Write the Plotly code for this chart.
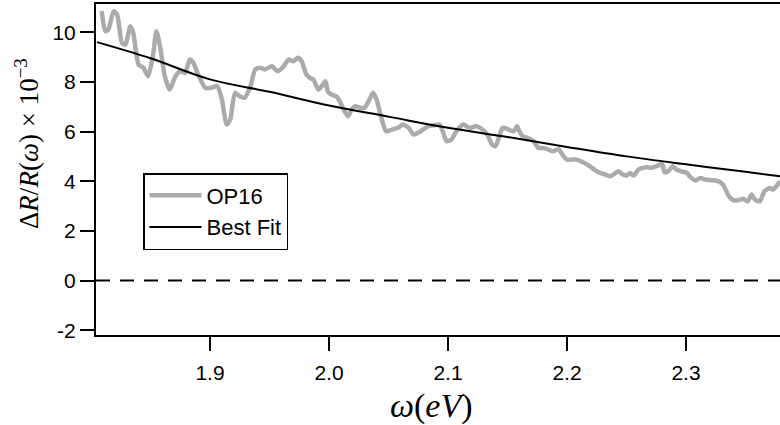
import plotly.graph_objects as go

# ---- data ----
op16_x = [1.809, 1.812, 1.8145, 1.819, 1.822, 1.826, 1.829, 1.833, 1.8355, 1.840,
          1.844, 1.848, 1.852, 1.855, 1.858, 1.862, 1.866, 1.871, 1.875, 1.879,
          1.883, 1.886, 1.890, 1.896, 1.901, 1.906, 1.910, 1.914, 1.917, 1.921,
          1.925, 1.929, 1.934, 1.938, 1.942, 1.946, 1.952, 1.955, 1.957, 1.962,
          1.966, 1.970, 1.974, 1.977, 1.981, 1.984, 1.987, 1.991, 1.994, 1.997,
          1.999, 2.002, 2.006, 2.009, 2.013, 2.016, 2.019, 2.022, 2.026, 2.030,
          2.034, 2.037, 2.040, 2.044, 2.048, 2.053, 2.058, 2.062, 2.067, 2.071,
          2.075, 2.079, 2.083, 2.088, 2.093, 2.096, 2.099, 2.103, 2.107, 2.113,
          2.118, 2.123, 2.127, 2.133, 2.137, 2.140, 2.144, 2.146, 2.151, 2.155,
          2.158, 2.160, 2.163, 2.167, 2.172, 2.176, 2.180, 2.184, 2.188, 2.193,
          2.197, 2.200, 2.204, 2.208, 2.212, 2.217, 2.221, 2.225, 2.228, 2.232,
          2.236, 2.239, 2.243, 2.247, 2.250, 2.253, 2.256, 2.260, 2.266, 2.271,
          2.275, 2.280, 2.282, 2.285, 2.289, 2.292, 2.296, 2.301, 2.303, 2.308,
          2.312, 2.316, 2.322, 2.327, 2.331, 2.336, 2.340, 2.344, 2.348, 2.352,
          2.355, 2.358, 2.362, 2.366, 2.371, 2.373, 2.376, 2.379]
op16_y = [10.85, 10.04, 10.1, 10.85, 10.7, 9.57, 9.5, 10.24, 9.97, 8.7,
          8.57, 8.23, 9.03, 10.04, 9.44, 8.23, 7.69, 8.23, 8.43, 8.36,
          8.9, 8.77, 8.3, 7.76, 7.76, 7.83, 7.29, 6.28, 6.48, 7.56,
          7.42, 7.36, 7.83, 8.5, 8.57, 8.5, 8.63, 8.5, 8.43, 8.63,
          8.9, 8.83, 8.97, 8.83, 8.3, 8.16, 8.09, 7.69, 7.83, 8.03,
          7.62, 7.49, 7.42, 7.22, 6.82, 6.62, 6.89, 7.02, 6.96, 6.96,
          7.29, 7.56, 7.29, 6.55, 6.01, 6.08, 6.15, 6.28, 6.15, 5.88,
          5.95, 6.08, 6.21, 6.25, 6.28, 5.95, 5.61, 5.68, 6.01, 6.28,
          6.15, 6.21, 6.15, 5.88, 5.48, 5.41, 5.95, 6.15, 6.08, 6.01,
          6.21, 6.01, 5.81, 5.75, 5.61, 5.34, 5.34, 5.28, 5.21, 5.28,
          5.01, 4.87, 4.87, 4.87, 4.8, 4.67, 4.54, 4.4, 4.33, 4.27,
          4.2, 4.27, 4.4, 4.27, 4.23, 4.33, 4.23, 4.47, 4.56, 4.54,
          4.6, 4.7, 4.36, 4.4, 4.6, 4.47, 4.4, 4.33, 4.2, 4.03,
          4.13, 4.07, 4.04, 4.0, 3.87, 3.40, 3.23, 3.23, 3.29, 3.19,
          3.46, 3.26, 3.19, 3.6, 3.73, 3.66, 3.8, 4.0]

fit_x = [1.805, 1.85, 1.90, 1.95, 2.00, 2.05, 2.10, 2.15, 2.20, 2.25, 2.30, 2.35, 2.379]
fit_y = [9.6, 8.95, 8.1, 7.6, 7.05, 6.6, 6.15, 5.78, 5.38, 5.0, 4.68, 4.38, 4.2]

x_tick_vals = [1.9, 2.0, 2.1, 2.2, 2.3]
x_tick_text = ["1.9", "2.0", "2.1", "2.2", "2.3"]
y_tick_vals = [-2, 0, 2, 4, 6, 8, 10]
y_tick_text = ["-2", "0", "2", "4", "6", "8", "10"]

# ---- figure ----
W, H = 780, 425
ML, MR, MT, MB = 96, 0, 4, 90
pw, ph = W - ML - MR, H - MT - MB

fig = go.Figure()
fig.add_trace(go.Scatter(x=op16_x, y=op16_y, mode="lines", name="OP16",
                         line=dict(color="#ababab", width=4.5, shape="spline", smoothing=0.6)))
fig.add_trace(go.Scatter(x=fit_x, y=fit_y, mode="lines", name="Best Fit",
                         line=dict(color="black", width=2, shape="spline")))
fig.add_hline(y=0, line=dict(color="black", width=2, dash="14px,10px"), layer="below")

tickfont = dict(family="Liberation Sans, Arial, sans-serif", size=21, color="black")
fig.update_xaxes(range=[1.8042, 2.379], tickvals=x_tick_vals, ticktext=x_tick_text,
                 showline=True, linecolor="black", linewidth=2, mirror=True,
                 ticks="outside", ticklen=14, tickwidth=2, tickcolor="black",
                 ticklabelstandoff=4,
                 showgrid=False, zeroline=False, tickfont=tickfont)
fig.update_yaxes(range=[-2.193, 11.136], tickvals=y_tick_vals, ticktext=y_tick_text,
                 showline=True, linecolor="black", linewidth=2, mirror=False,
                 ticks="outside", ticklen=14, tickwidth=2, tickcolor="black",
                 showgrid=False, zeroline=False, tickfont=tickfont)

def px_to_paper_x(px):
    return (px - ML) / pw

def py_to_paper_y(py):
    return (H - MB - py) / ph

serif = "Liberation Serif, Times New Roman, serif"
fig.add_annotation(text="<i>ω</i>(<i>eV</i>)", xref="paper", yref="paper",
                   x=px_to_paper_x(431), y=py_to_paper_y(406), xanchor="center", yanchor="middle",
                   showarrow=False, font=dict(family=serif, size=34, color="black"))
fig.add_annotation(text="Δ<i>R</i>/<i>R</i>(<i>ω</i>) × 10<sup>−3</sup>", xref="paper", yref="paper",
                   x=px_to_paper_x(27), y=py_to_paper_y(144), xanchor="center", yanchor="middle",
                   textangle=-90, showarrow=False, font=dict(family=serif, size=27, color="black"))

fig.update_layout(width=W, height=H, margin=dict(l=ML, r=MR, t=MT, b=MB),
                  paper_bgcolor="white", plot_bgcolor="white",
                  showlegend=True,
                  legend=dict(x=px_to_paper_x(143), y=py_to_paper_y(173), xanchor="left", yanchor="top",
                              bordercolor="black", borderwidth=1.5, bgcolor="white",
                              font=dict(family="Liberation Sans, Arial, sans-serif", size=22, color="black"),
                              tracegroupgap=0, itemwidth=52))

fig.write_html("out.html")
